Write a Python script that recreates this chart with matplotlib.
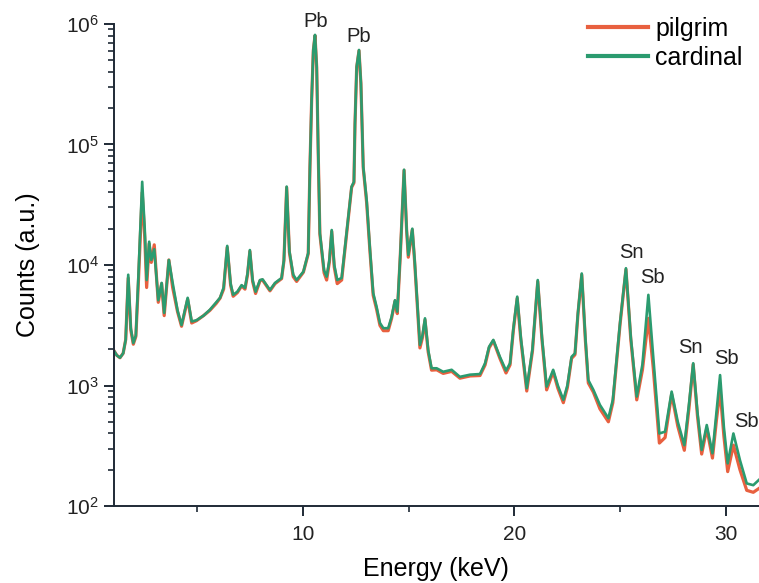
import matplotlib

matplotlib.use("Agg")
import matplotlib.pyplot as plt
from matplotlib.ticker import LogLocator, MultipleLocator

plt.rcParams["font.family"] = ["Liberation Sans", "DejaVu Sans"]

# spectrum: energy (keV) and counts for both samples
energy = [
    1.06, 1.20, 1.35, 1.50, 1.62, 1.74, 1.86, 1.98, 2.10, 2.22,
    2.40, 2.52, 2.61, 2.73, 2.83, 2.97, 3.16, 3.32, 3.44, 3.66,
    3.84, 4.07, 4.26, 4.55, 4.74, 4.97, 5.30, 5.60, 5.90, 6.08,
    6.25, 6.42, 6.58, 6.70, 6.90, 7.10, 7.26, 7.38, 7.49, 7.62,
    7.76, 7.97, 8.09, 8.28, 8.44, 8.68, 8.99, 9.10, 9.23, 9.36,
    9.54, 9.70, 10.02, 10.25, 10.33, 10.41, 10.49, 10.57, 10.65, 10.72,
    10.80, 11.00, 11.12, 11.25, 11.36, 11.48, 11.62, 11.83, 12.06, 12.30,
    12.41, 12.46, 12.54, 12.65, 12.74, 12.80, 12.85, 13.01, 13.17, 13.32,
    13.48, 13.64, 13.80, 14.03, 14.19, 14.35, 14.46, 14.60, 14.78, 14.90,
    14.98, 15.17, 15.28, 15.37, 15.53, 15.65, 15.77, 15.92, 16.08, 16.32,
    16.63, 17.03, 17.42, 17.90, 18.37, 18.61, 18.80, 19.00, 19.31, 19.60,
    19.79, 19.95, 20.13, 20.30, 20.58, 20.85, 21.10, 21.30, 21.52, 21.83,
    22.05, 22.31, 22.50, 22.70, 22.86, 23.00, 23.18, 23.35, 23.49, 23.73,
    24.04, 24.44, 24.65, 24.99, 25.27, 25.50, 25.78, 26.05, 26.33, 26.56,
    26.85, 27.12, 27.43, 27.72, 28.03, 28.25, 28.45, 28.65, 28.85, 29.09,
    29.36, 29.55, 29.72, 29.90, 30.08, 30.35, 30.66, 30.98, 31.29, 31.56,
]

cardinal = [
    1950, 1780, 1700, 1850, 2400, 8300, 3000, 2250, 2600, 8000,
    49000, 20000, 7500, 15600, 11000, 13500, 5100, 7100, 4000, 11000,
    7100, 4200, 3170, 5340, 3400, 3480, 3800, 4250, 4900, 5340,
    6500, 14400, 7000, 5660, 6000, 6800, 6450, 8500, 13300, 7500,
    6000, 7500, 7600, 6800, 6200, 7100, 7800, 11000, 44700, 13000,
    8300, 7500, 8800, 12600, 65500, 234000, 608000, 811000, 442000, 90000,
    18400, 9000, 8000, 11000, 19500, 10000, 7500, 7800, 18400, 44700,
    49000, 150000, 443000, 608000, 325000, 140000, 65500, 34700, 13300, 5860,
    4500, 3300, 2990, 2990, 3700, 5100, 4100, 12000, 61700, 20000,
    12100, 20000, 11000, 6200, 2170, 2600, 3610, 1970, 1390, 1390,
    1300, 1350, 1180, 1230, 1245, 1530, 2100, 2390, 1730, 1330,
    1530, 3000, 5460, 2500, 950, 2000, 7500, 2500, 980, 1350,
    1000, 760, 1000, 1730, 1850, 4000, 8500, 2500, 1110, 920,
    690, 535, 760, 3300, 9400, 2500, 810, 1500, 5650, 1730,
    400, 414, 890, 500, 320, 700, 1530, 600, 292, 470,
    274, 600, 1220, 450, 226, 400, 240, 154, 149, 165,
]

pilgrim = [
    1950, 1780, 1700, 1850, 2400, 7800, 2900, 2200, 2550, 7200,
    40000, 17000, 6500, 15000, 10500, 14700, 4900, 7000, 3800, 11000,
    6500, 4100, 3100, 5200, 3300, 3450, 3800, 4200, 4800, 5300,
    6300, 14000, 6800, 5500, 5900, 6700, 6300, 8300, 13000, 7300,
    5800, 7400, 7500, 6700, 6100, 7000, 7700, 10800, 44000, 12700,
    8000, 7300, 8700, 12400, 64000, 230000, 600000, 800000, 435000, 88000,
    18000, 8600, 7500, 10600, 19000, 9600, 7000, 7500, 18000, 44000,
    48000, 147000, 436000, 600000, 318000, 137000, 64000, 33000, 12800, 5600,
    4300, 3150, 2850, 2850, 3600, 5000, 3950, 11800, 61000, 19500,
    11600, 19600, 10600, 5900, 2050, 2500, 3500, 1900, 1340, 1350,
    1260, 1310, 1150, 1200, 1210, 1480, 2050, 2350, 1680, 1270,
    1480, 2900, 5300, 2400, 900, 1930, 7300, 2400, 920, 1300,
    950, 720, 960, 1680, 1800, 3900, 8300, 2400, 1050, 880,
    640, 500, 720, 3200, 9200, 2400, 760, 1350, 3610, 1400,
    333, 370, 850, 460, 290, 650, 1500, 560, 270, 440,
    250, 520, 920, 380, 193, 320, 200, 135, 130, 140,
]

# peak labels: text, energy, counts of the label centre
peak_names = ["Pb", "Pb", "Sn", "Sb", "Sn", "Sb", "Sb"]
peak_x = [10.58, 12.64, 25.54, 26.53, 28.30, 30.03, 30.95]
peak_y = [1.04e6, 7.8e5, 12800, 7850, 2080, 1660, 500]

RED = "#e8603f"
GREEN = "#2b9b6f"
AXIS_COLOR = "#1f2a36"

fig = plt.figure(figsize=(7.59, 5.83), dpi=100)
ax = fig.add_axes([0.150, 0.132, 0.850, 0.827])

ax.plot(energy, pilgrim, color=RED, lw=2.3, label="pilgrim")
ax.plot(energy, cardinal, color=GREEN, lw=1.9, label="cardinal")

ax.set_yscale("log")
ax.set_ylim(100, 1e6)
ax.set_xlim(1.06, 31.56)

ax.xaxis.set_major_locator(MultipleLocator(10))
ax.xaxis.set_minor_locator(MultipleLocator(5))
ax.yaxis.set_major_locator(LogLocator(base=10, numticks=10))
ax.yaxis.set_minor_locator(LogLocator(base=10, subs=range(2, 10), numticks=50))

for side in ("top", "right"):
    ax.spines[side].set_visible(False)
for side in ("left", "bottom"):
    ax.spines[side].set_color(AXIS_COLOR)
    ax.spines[side].set_linewidth(1.4)

ax.tick_params(which="major", direction="out", length=7, width=1.4, colors=AXIS_COLOR,
               labelsize=15, labelcolor="#222222")
ax.tick_params(which="minor", direction="out", length=4, width=1.2, colors=AXIS_COLOR)
ax.tick_params(axis="x", which="major", pad=7)

ax.set_xlabel("Energy (keV)", fontsize=18, labelpad=9)
ax.set_ylabel("Counts (a.u.)", fontsize=18, labelpad=19)

for name, x, y in zip(peak_names, peak_x, peak_y):
    ax.text(x, y, name, fontsize=14.5, ha="center", va="center", color="#222222",
            clip_on=False)

leg = ax.legend(loc="upper right", bbox_to_anchor=(0.99, 1.035), frameon=False, fontsize=18,
                handlelength=2.4, handletextpad=0.3, labelspacing=0.2, borderaxespad=0)
for line in leg.get_lines():
    line.set_linewidth(3)

fig.savefig("out.png", dpi=100)
